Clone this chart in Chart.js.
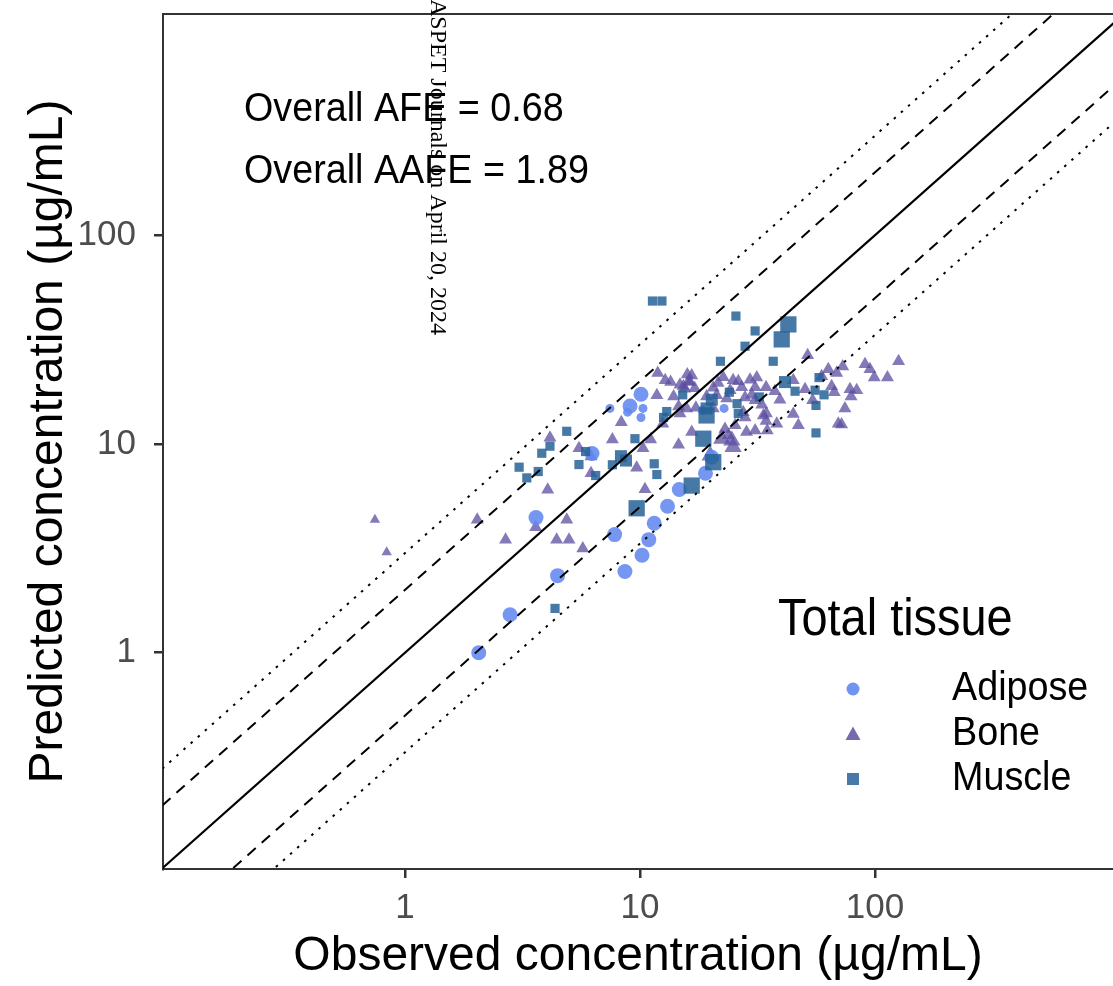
<!DOCTYPE html>
<html>
<head>
<meta charset="utf-8">
<script src="https://cdn.jsdelivr.net/npm/chart.js@4.4.1/dist/chart.umd.min.js"></script>
<style>
  html, body { margin: 0; padding: 0; background: #ffffff; overflow: hidden; }
  #wrap { width: 1113px; height: 986px; overflow: hidden; }
  canvas { display: block; }
</style>
</head>
<body>
<div id="wrap"><canvas id="grafico"></canvas></div>
<script>
// valores (ug/mL)
const adiposeX = [2.06, 2.80, 3.61, 4.46, 6.25, 7.80, 8.63, 10.2, 10.9, 11.5, 13.1, 14.7, 19.0, 20.2, 10.1, 9.07, 7.45, 8.86, 10.3, 10.1, 22.8, 18.4];
const adiposeY = [1.00, 1.52, 4.44, 2.34, 9.0, 3.68, 2.45, 2.93, 3.48, 4.17, 5.03, 6.05, 7.24, 8.64, 17.3, 15.2, 14.8, 14.2, 14.8, 13.4, 14.8, 14.5];
const adiposeW = [2, 2, 2, 2, 2, 2, 2, 2, 2, 2, 2, 2, 2, 2, 2, 2, 1, 1, 1, 1, 1, 1];

const boneX = [0.745, 0.836, 2.03, 4.05, 3.60, 2.68, 4.88, 4.42, 4.99, 5.71,
  4.14, 5.50, 6.19, 6.19, 7.63, 8.33, 9.68, 10.5, 10.3, 11.1,
  11.8, 11.9, 12.8, 13.5, 13.9, 12.5, 14.6, 16.6, 14.8, 14.6,
  15.5, 15.9, 16.3, 14.8, 17.3, 15.3, 17.1, 19.2, 21.2, 20.5,
  21.5, 22.6, 24.9, 26.2, 27.1, 24.2, 23.4, 28.0, 29.4, 31.4,
  30.9, 34.4, 29.9, 30.9, 33.0, 37.5, 39.4, 44.9, 50.4, 54.3,
  51.7, 59.3, 63.3, 68.7, 72.9, 65.4, 67.1, 78.3, 83.6, 79.1,
  90.7, 95.2, 99.3, 113, 126, 74.5, 69.8, 72.1, 44.9, 47.2,
  38.2, 34.8, 34.4, 34.5, 33.5, 30.9, 28.4, 27.5, 28.0, 25.4,
  23.0, 23.8, 24.6, 24.9, 22.3, 19.9, 20.5, 15.8, 16.6, 16.1];
const boneY = [4.33, 3.03, 4.34, 6.03, 3.99, 3.48, 4.34, 3.48, 3.48, 3.16,
  10.7, 9.55, 8.71, 7.24, 10.5, 12.7, 7.69, 6.07, 9.55, 10.5,
  17.1, 21.9, 20.2, 19.8, 16.9, 12.5, 9.91, 11.4, 14.0, 15.1,
  18.4, 21.5, 19.8, 19.2, 14.9, 18.9, 18.5, 16.9, 17.1, 18.6,
  19.6, 20.9, 20.2, 20.0, 18.7, 18.1, 16.5, 16.7, 20.3, 20.8,
  18.7, 18.7, 17.2, 16.2, 15.4, 17.9, 16.3, 20.2, 18.3, 16.2,
  26.6, 21.1, 22.8, 21.9, 23.5, 18.9, 17.7, 18.3, 18.1, 16.9,
  24.1, 22.8, 20.8, 20.8, 24.9, 14.8, 12.5, 12.4, 13.9, 12.3,
  12.5, 11.6, 12.9, 14.0, 13.7, 11.6, 11.4, 14.2, 13.4, 12.3,
  11.8, 11.0, 10.4, 9.66, 10.6, 8.81, 14.8, 14.8, 21.3, 20.0];
const boneW = [1, 1, 2, 2, 2, 2, 2, 2, 2, 2,
  2, 2, 2, 2, 2, 2, 2, 2, 2, 2,
  2, 2, 2, 2, 2, 2, 2, 2, 2, 2,
  2, 2, 2, 2, 2, 2, 2, 2, 2, 2,
  2, 2, 2, 2, 2, 2, 2, 2, 2, 2,
  2, 2, 2, 2, 2, 2, 2, 2, 2, 2,
  2, 2, 2, 2, 2, 2, 2, 2, 2, 2,
  2, 2, 2, 2, 2, 2, 2, 2, 2, 2,
  2, 2, 2, 2, 2, 2, 2, 2, 2, 2,
  2, 2, 3, 3, 3, 3, 2, 2, 2, 2];

const muscleX = [11.3, 12.4, 25.6, 30.9, 42.8, 40.1, 28.0, 22.0, 36.9, 41.4,
  45.7, 57.8, 55.6, 60.7, 56.1, 56.1, 24.0, 20.2, 19.2, 19.2,
  25.9, 26.2, 18.6, 20.5, 15.2, 13.0, 12.6, 9.52, 11.5, 11.8,
  16.6, 9.68, 8.30, 8.72, 7.63, 5.50, 6.48, 5.87, 4.88, 4.14,
  3.82, 3.06, 3.30, 3.69, 4.35, 32.2];
const muscleY = [48.4, 48.4, 41.0, 34.8, 37.4, 31.7, 29.4, 24.9, 24.9, 19.8,
  17.9, 20.8, 18.1, 17.2, 15.3, 11.3, 17.7, 16.3, 14.8, 13.7,
  15.6, 14.0, 10.6, 8.18, 17.2, 14.3, 13.4, 10.6, 8.04, 7.14,
  6.32, 4.92, 8.74, 8.33, 7.95, 7.97, 7.06, 9.20, 11.5, 9.76,
  9.03, 7.74, 6.88, 7.38, 1.63, 16.8];
const muscleW = [1, 1, 1, 1, 3, 3, 1, 1, 1, 2,
  1, 1, 1, 1, 1, 1, 1, 2, 2, 3,
  1, 1, 3, 3, 1, 1, 1, 1, 1, 1,
  3, 3, 2, 2, 1, 1, 1, 1, 1, 1,
  1, 1, 1, 1, 1, 1];

// linhas de referencia: identidade, 2 vezes e 3 vezes
const linhaX = [0.01, 10000];
const razoes = [1, 2, 0.5, 3, 1 / 3];
const eixoTicks = [1, 10, 100];

const tecidos = ["Adipose", "Bone", "Muscle"];
const textoAFE = "Overall AFE = 0.68";
const textoAAFE = "Overall AAFE = 1.89";
const marcaDagua = "ASPET Journals on April 20, 2024";

const corAdipose = "rgba(98, 137, 240, 0.88)";
const corBone = "rgba(92, 78, 160, 0.75)";
const corMuscle = "rgba(38, 98, 150, 0.85)";
const fonte = "'Liberation Sans', Arial, Helvetica, sans-serif";

const pontos = (xs, ys) => xs.map((x, i) => ({ x: x, y: ys[i] }));

const raioAdipose = { 1: 4.5, 2: 7.5 };
const raioBone = { 1: 6, 2: 7.5, 3: 10 };
const raioMuscle = { 1: 6.5, 2: 8.5, 3: 11.5 };

const linhas = razoes.map((r, i) => ({
  type: "scatter",
  data: linhaX.map(x => ({ x: x, y: x * r })),
  showLine: true,
  borderColor: "#000000",
  borderWidth: i === 0 ? 2.2 : 2,
  borderDash: i === 0 ? [] : (i < 3 ? [11, 8] : [2.5, 7]),
  pointRadius: 0,
  order: 0,
  clip: 0,
}));

// texto um pouco estreito, como no original
function textoEstreito(ctx, txt, x, y, tam) {
  ctx.save();
  ctx.translate(x, y);
  ctx.scale(0.92, 1);
  ctx.font = tam + "px " + fonte;
  ctx.fillText(txt, 0, 0);
  ctx.restore();
}

const pluginExtras = {
  id: "extras",
  afterDraw(chart) {
    const ctx = chart.ctx;
    const area = chart.chartArea;
    ctx.save();

    // borda superior do painel
    ctx.strokeStyle = "#333333";
    ctx.lineWidth = 2;
    ctx.beginPath();
    ctx.moveTo(area.left, area.top);
    ctx.lineTo(area.right, area.top);
    ctx.stroke();

    // textos AFE / AAFE
    ctx.fillStyle = "#000000";
    ctx.textAlign = "left";
    ctx.textBaseline = "middle";
    textoEstreito(ctx, textoAFE, 244, 110, 41);
    textoEstreito(ctx, textoAAFE, 244, 172, 41);

    // legenda
    textoEstreito(ctx, "Total tissue", 778, 621, 51);
    const linhasLeg = [689, 734, 779];
    tecidos.forEach((t, i) => textoEstreito(ctx, t, 952, linhasLeg[i], 41));

    const sx = 853;
    ctx.fillStyle = "rgb(112, 148, 240)";
    ctx.beginPath();
    ctx.arc(sx, linhasLeg[0], 6.5, 0, Math.PI * 2);
    ctx.fill();

    ctx.fillStyle = "rgb(120, 106, 175)";
    ctx.beginPath();
    ctx.moveTo(sx, linhasLeg[1] - 7.5);
    ctx.lineTo(sx + 7.5, linhasLeg[1] + 6);
    ctx.lineTo(sx - 7.5, linhasLeg[1] + 6);
    ctx.closePath();
    ctx.fill();

    ctx.fillStyle = "rgb(70, 122, 168)";
    ctx.fillRect(sx - 6, linhasLeg[2] - 6, 12, 12);

    // marca d'agua do PDF
    ctx.translate(437, -1);
    ctx.rotate(Math.PI / 2);
    ctx.font = "24px 'Liberation Serif', 'Times New Roman', serif";
    ctx.fillStyle = "#000000";
    ctx.textAlign = "left";
    ctx.textBaseline = "middle";
    ctx.fillText(marcaDagua, 0, 0);

    ctx.restore();
  },
};

const semPadding = s => {
  s.paddingTop = 0;
  s.paddingBottom = 0;
  s.paddingLeft = 0;
  s.paddingRight = 0;
};

const GraficoTecidos = document.getElementById("grafico");

new Chart(GraficoTecidos, {
  type: "scatter",
  data: {
    datasets: [
      ...linhas,
      {
        label: tecidos[0],
        data: pontos(adiposeX, adiposeY),
        pointStyle: "circle",
        backgroundColor: corAdipose,
        borderWidth: 0,
        pointRadius: ctx => raioAdipose[adiposeW[ctx.dataIndex]],
        order: 2,
      },
      {
        label: tecidos[1],
        data: pontos(boneX, boneY),
        pointStyle: "triangle",
        backgroundColor: corBone,
        borderWidth: 0,
        pointRadius: ctx => raioBone[boneW[ctx.dataIndex]],
        order: 3,
      },
      {
        label: tecidos[2],
        data: pontos(muscleX, muscleY),
        pointStyle: "rect",
        backgroundColor: corMuscle,
        borderWidth: 0,
        pointRadius: ctx => raioMuscle[muscleW[ctx.dataIndex]],
        order: 1,
      },
    ],
  },
  options: {
    responsive: true,
    maintainAspectRatio: false,
    animation: false,
    events: [],
    layout: { autoPadding: false, padding: { top: 14, right: 0, left: 0, bottom: 0 } },
    scales: {
      x: {
        type: "logarithmic",
        min: 0.0934,
        max: 1030,
        afterBuildTicks: s => { s.ticks = eixoTicks.map(v => ({ value: v })); },
        afterFit: s => { s.height = 117; semPadding(s); },
        ticks: {
          callback: v => String(v),
          color: "#4d4d4d",
          font: { family: fonte, size: 35 },
          padding: 9,
          maxRotation: 0,
          autoSkip: false,
        },
        grid: { drawOnChartArea: false, drawTicks: true, tickLength: 9, color: "#333333", lineWidth: 2.5 },
        border: { display: true, color: "#333333", width: 2 },
        title: {
          display: true,
          text: "Observed concentration (µg/mL)",
          color: "#000000",
          font: { family: fonte, size: 48 },
          padding: { top: 0, bottom: 0 },
        },
      },
      y: {
        type: "logarithmic",
        min: 0.092,
        max: 1148,
        afterBuildTicks: s => { s.ticks = eixoTicks.map(v => ({ value: v })); },
        afterFit: s => { s.width = 163; semPadding(s); },
        ticks: {
          callback: v => String(v),
          color: "#4d4d4d",
          font: { family: fonte, size: 35 },
          padding: 18,
          autoSkip: false,
        },
        grid: { drawOnChartArea: false, drawTicks: true, tickLength: 9, color: "#333333", lineWidth: 2.5 },
        border: { display: true, color: "#333333", width: 2 },
        title: {
          display: true,
          text: "Predicted concentration (µg/mL)",
          color: "#000000",
          font: { family: fonte, size: 48 },
          padding: { top: 20, bottom: 0 },
        },
      },
    },
    plugins: {
      legend: { display: false },
      tooltip: { enabled: false },
    },
  },
  plugins: [pluginExtras],
});
</script>
</body>
</html>
